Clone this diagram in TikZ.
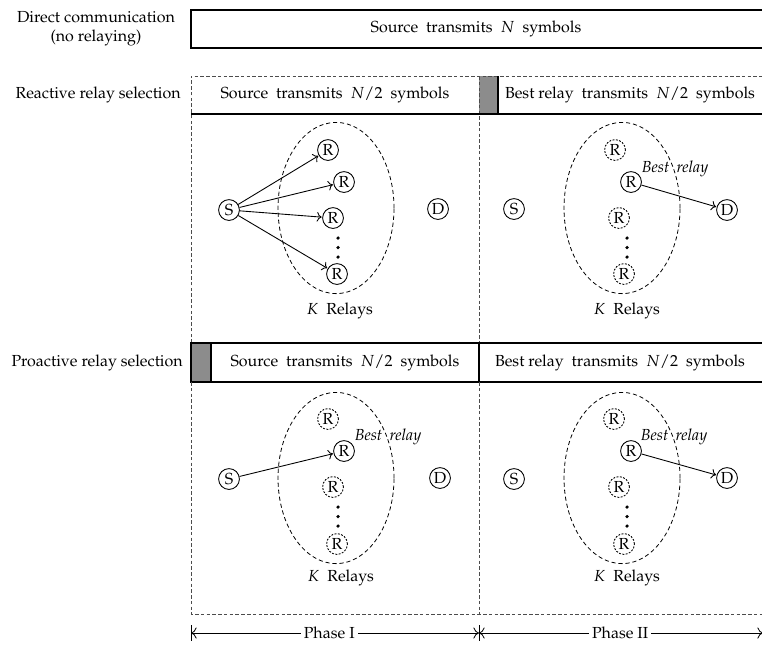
\documentclass[tikz,border=0pt]{standalone}
\usepackage[T1]{fontenc}
\usepackage{mathpazo}
\usetikzlibrary{shapes.geometric,arrows.meta}

\begin{document}
\begin{tikzpicture}[x=0.625pt,y=-0.625pt,
  nd/.style={circle,draw,line width=0.55pt,minimum size=13pt,inner sep=0pt},
  ndd/.style={nd,dash pattern=on 1.2pt off 0.9pt},
  grp/.style={ellipse,draw,dash pattern=on 2.6pt off 1.8pt,line width=0.5pt,
              minimum width=72.5pt,minimum height=107pt,inner sep=0pt},
  link/.style={-{To[length=3pt,width=6pt]},line width=0.55pt,shorten >=0.3pt},
  frame/.style={draw=black!70,dash pattern=on 2.2pt off 1.4pt,line width=0.6pt},
  slot/.style={draw=black,line width=0.75pt},
  shade/.style={fill=black!45},
  lbl/.style={inner sep=0pt},
  best/.style={font=\itshape,inner sep=0pt},
  rng/.style={{To[length=3.5pt,width=7pt]}-{To[length=3.5pt,width=7pt]},line width=0.5pt},
  dotf/.style={fill=black}
]
\useasboundingbox (0,0) rectangle (762,644);
\clip (0,0) rectangle (762,644);

% ---- direct transmission ----
\node[lbl,align=center] (ldir) at (96,29) {Direct communication\\(no relaying)};
\draw[slot] (191,10) rectangle (775,48);
\node[lbl] (tdir) at (476,29) {Source~ transmits~ $N$~ symbols};

% ---- reactive selection: header ----
\node[lbl,anchor=east] (lrea) at (181,95) {Reactive relay selection};
\fill[shade] (479,76) rectangle (498,114);
\draw[frame] (191,343) -- (191,76) -- (775,76);
\draw[frame] (479,76) -- (479,343);
\draw[slot] (191,114) -- (775,114);
\draw[slot] (498,76) -- (498,114);
\node[lbl] (trea1) at (335,95) {Source~ transmits~ $N/2$~ symbols};
\node[lbl] (trea2) at (630,95) {Best relay~ transmits~ $N/2$~ symbols};

% ---- proactive selection: header ----
\node[lbl,anchor=east] (lpro) at (183,363) {Proactive relay selection};
\fill[shade] (191,343) rectangle (211,382);
\draw[slot] (191,343) rectangle (775,382);
\draw[slot] (211,343) -- (211,382);
\draw[slot] (479,343) -- (479,382);
\draw[frame] (191,382) -- (191,614) -- (775,614);
\draw[frame] (479,382) -- (479,614);
\node[lbl] (tpro1) at (345,363) {Source~ transmits~ $N/2$~ symbols};
\node[lbl] (tpro2) at (620,363) {Best relay~ transmits~ $N/2$~ symbols};

% ---- panel A: reactive, phase I ----
\node[grp] (aK) at (336,208) {};
\node[nd] (aS) at (229,210) {S};
\node[nd] (aR1) at (328,150) {R};
\node[nd] (aR2) at (344,182) {R};
\node[nd] (aR3) at (333,218) {R};
\node[nd] (aR4) at (337,274) {R};
\node[nd] (aD) at (438,209) {D};
\foreach \yy in {238,247.5,257} \fill[dotf] (338,\yy) circle (1.1pt);
\node[lbl] (aKl) at (340,311) {$K$~ Relays};
\draw[link] (aS) -- (aR1);
\draw[link] (aS) -- (aR2);
\draw[link] (aS) -- (aR3);
\draw[link] (aS) -- (aR4);

% ---- panel B: reactive, phase II ----
\node[grp] (bK) at (622,208) {};
\node[nd] (bS) at (514,209) {S};
\node[ndd] (bR1) at (615,150) {R};
\node[nd] (bR2) at (631,182) {R};
\node[ndd] (bR3) at (619,218) {R};
\node[ndd] (bR4) at (624,274) {R};
\node[nd] (bD) at (727,210) {D};
\foreach \yy in {238,247.5,257} \fill[dotf] (627,\yy) circle (1.1pt);
\node[best] (bB) at (675,169) {Best\hspace{0.45em}relay};
\node[lbl] (bKl) at (627,311) {$K$~ Relays};
\draw[link] (bR2) -- (bD);

% ---- panel C: proactive, phase I ----
\node[grp] (cK) at (336,478) {};
\node[nd] (cS) at (229,479) {S};
\node[ndd] (cR1) at (328,419) {R};
\node[nd] (cR2) at (344,451) {R};
\node[ndd] (cR3) at (333,487) {R};
\node[ndd] (cR4) at (337,544) {R};
\node[nd] (cD) at (440,478) {D};
\foreach \yy in {507,516.5,526} \fill[dotf] (338,\yy) circle (1.1pt);
\node[best] (cB) at (388,437) {Best\hspace{0.45em}relay};
\node[lbl] (cKl) at (341,578) {$K$~ Relays};
\draw[link] (cS) -- (cR2);

% ---- panel D: proactive, phase II ----
\node[grp] (dK) at (622,478) {};
\node[nd] (dS) at (514,479) {S};
\node[ndd] (dR1) at (614,419) {R};
\node[nd] (dR2) at (631,451) {R};
\node[ndd] (dR3) at (619,487) {R};
\node[ndd] (dR4) at (624,544) {R};
\node[nd] (dD) at (727,478) {D};
\foreach \yy in {507,516.5,526} \fill[dotf] (627,\yy) circle (1.1pt);
\node[best] (dB) at (674,437) {Best\hspace{0.45em}relay};
\node[lbl] (dKl) at (627,578) {$K$~ Relays};
\draw[link] (dR2) -- (dD);

% ---- phase ranges ----
\coordinate (p0) at (191,633);
\coordinate (p1) at (479,633);
\coordinate (p2) at (763,633);
\draw[line width=0.5pt] (191,625) -- (191,641);
\draw[line width=0.5pt] (479,625) -- (479,641);
\draw[rng] (p0) -- (p1) node[pos=0.48,fill=white,inner sep=2pt] (ph1) {Phase I};
\draw[rng] (p1) -- (p2) node[pos=0.497,fill=white,inner sep=2pt] (ph2) {Phase II};
\end{tikzpicture}
\end{document}
